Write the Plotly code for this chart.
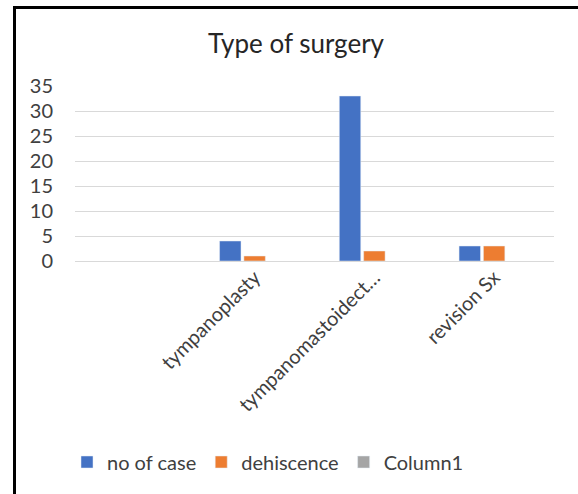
import plotly.graph_objects as go

categories = [" ", "tympanoplasty", "tympanomastoidect…", "revision Sx"]
no_of_case = [None, 4, 33, 3]
dehiscence = [None, 1, 2, 3]
column1 = [None, None, None, None]
y_ticks = [0, 5, 10, 15, 20, 25, 30, 35]

W, H = 578, 494
L, R, T, B = 75, 554, 86, 261

def px(x):
    return (x - L) / (R - L)

def py(y):
    return (B - y) / (B - T)

FONT = "Lato"
TXT = "#404040"

fig = go.Figure()
fig.add_bar(x=categories, y=no_of_case, name="no of case", marker=dict(color="#4472C4"))
fig.add_bar(x=categories, y=dehiscence, name="dehiscence", marker=dict(color="#ED7D31"))
fig.add_bar(x=categories, y=column1, name="Column1", marker=dict(color="#A5A5A5"))

fig.update_layout(
    width=W, height=H,
    margin=dict(l=L, r=W - R, t=T, b=H - B, pad=0),
    paper_bgcolor="white", plot_bgcolor="white",
    font=dict(family=FONT, color=TXT, size=20),
    title=dict(text="Type of surgery", x=px(296), xanchor="center", xref="paper",
               y=1 - 44 / H, yanchor="middle", yref="container",
               font=dict(family=FONT, size=26, color="#262626")),
    barmode="group", bargap=0.39, bargroupgap=0.12,
    showlegend=True,
    legend=dict(orientation="h", x=px(67), xanchor="left", y=py(462), yanchor="middle",
                font=dict(family=FONT, size=20, color=TXT), itemwidth=30,
                tracegroupgap=0),
    xaxis=dict(type="category", categoryorder="array", categoryarray=categories,
               tickangle=-45, showgrid=False, showline=False, ticks="",
               tickfont=dict(family=FONT, size=20, color=TXT)),
    yaxis=dict(range=[0, 35], tickvals=y_ticks, showgrid=True, gridcolor="#D9D9D9",
               gridwidth=1, zeroline=True, zerolinecolor="#D9D9D9", zerolinewidth=1,
               showline=False, ticks="", ticklen=0, ticklabelstandoff=21,
               tickfont=dict(family=FONT, size=20, color=TXT)),
    shapes=[
        dict(type="rect", xref="paper", yref="paper", x0=px(13), x1=px(16),
             y0=py(494), y1=py(6), fillcolor="black", line=dict(width=0), layer="above"),
        dict(type="rect", xref="paper", yref="paper", x0=px(13), x1=px(578),
             y0=py(9), y1=py(6), fillcolor="black", line=dict(width=0), layer="above"),
    ],
)

fig.write_html("out.html", config={"displayModeBar": False},
               post_script="document.body.style.margin='0';document.body.style.overflow='hidden';")
